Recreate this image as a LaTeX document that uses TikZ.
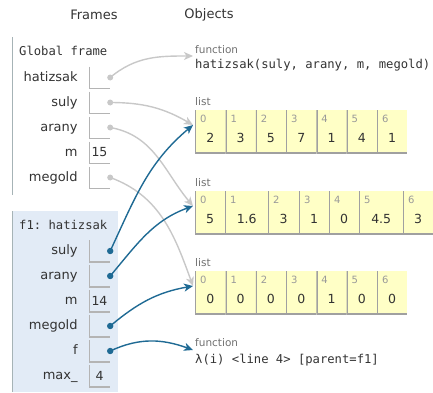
\documentclass[tikz,border=0pt]{standalone}
\usepackage{fontspec}
\setmainfont{DejaVu Sans}
\setmonofont{DejaVu Sans Mono}
\usepackage{xcolor}
\usepackage{tikz}
\usetikzlibrary{arrows.meta,positioning}
\definecolor{framebg}{HTML}{E2EBF6}
\definecolor{frameline}{HTML}{A6B3B6}
\definecolor{listbg}{HTML}{FFFFC6}
\definecolor{cellline}{HTML}{A0A0A0}
\definecolor{boxline}{HTML}{B4B4B4}
\definecolor{lightptr}{HTML}{C8C8C8}
\definecolor{darkptr}{HTML}{1F6A94}
\definecolor{ink}{HTML}{333333}
\definecolor{typegray}{HTML}{707070}
\definecolor{idxgray}{HTML}{999999}
\tikzstyle{header} = [font=\fontsize{13pt}{15pt}\selectfont, text=ink]
\tikzstyle{frametitle} = [anchor=west, inner sep=0pt, font=\ttfamily\fontsize{12.2pt}{14pt}\selectfont, text=ink]
\tikzstyle{varname} = [inner sep=0pt, text height=9.5pt, text depth=2.5pt, font=\fontsize{13pt}{15pt}\selectfont, text=ink]
\tikzstyle{valbox} = [rectangle, minimum width=21pt, minimum height=22pt, inner sep=0pt, font=\fontsize{12.5pt}{14pt}\selectfont, text=ink,
  path picture={\draw[boxline, line width=2pt] (path picture bounding box.north west) -- (path picture bounding box.south west) -- (path picture bounding box.south east);}]
\tikzstyle{typelabel} = [anchor=west, inner sep=0pt, font=\fontsize{10.5pt}{12pt}\selectfont, text=typegray]
\tikzstyle{codetext} = [anchor=west, inner sep=0pt, font=\ttfamily\fontsize{12.2pt}{14pt}\selectfont, text=ink]
\tikzstyle{listcell} = [rectangle, anchor=north west, minimum height=43pt, inner sep=0pt, fill=listbg,
  path picture={\draw[cellline, line width=2.4pt] (path picture bounding box.north west) -- (path picture bounding box.south west) -- (path picture bounding box.south east);}]
\tikzstyle{cellidx} = [anchor=west, inner sep=0pt, font=\fontsize{10pt}{11pt}\selectfont, text=idxgray]
\tikzstyle{cellval} = [inner sep=0pt, font=\fontsize{12.5pt}{14pt}\selectfont, text=ink]
\tikzstyle{ptrlight} = [draw=lightptr, line width=1.4pt, -{Stealth[length=9pt, width=8pt, inset=2.5pt]}]
\tikzstyle{ptrdark} = [draw=darkptr, line width=1.4pt, -{Stealth[length=9pt, width=8pt, inset=2.5pt]}]

\begin{document}
\begin{tikzpicture}[x=1pt, y=-1pt, node distance=25pt]
	\useasboundingbox (0,0) rectangle (433,392);
	\node (frames) [header] at (94,15) {Frames};
	\node (objects) [header] at (209,15) {Objects};

	% global frame
	\draw [frameline] (12,37) -- (12,195);
	\node (gtitle) [frametitle] at (19,51) {Global frame};
	\node (ghat) [valbox] at (99.5,77.5) {};
	\node (gsuly) [valbox, below of=ghat] {};
	\node (garany) [valbox, below of=gsuly] {};
	\node (gm) [valbox, below of=garany] {15};
	\node (gmeg) [valbox, below of=gm] {};
	\node (nghat) [varname, left=11pt of ghat] {hatizsak};
	\node (ngsuly) [varname, left=11pt of gsuly] {suly};
	\node (ngarany) [varname, left=11pt of garany] {arany};
	\node (ngm) [varname, left=11pt of gm] {m};
	\node (ngmeg) [varname, left=11pt of gmeg] {megold};

	% f1 frame
	\fill [framebg] (12,211) rectangle (118,392);
	\draw [frameline] (12,211) -- (12,392);
	\node (ftitle) [frametitle] at (19,225) {f1: hatizsak};
	\node (fsuly) [valbox] at (99.5,251) {};
	\node (farany) [valbox, below of=fsuly] {};
	\node (fm) [valbox, below of=farany] {14};
	\node (fmeg) [valbox, below of=fm] {};
	\node (ff) [valbox, below of=fmeg] {};
	\node (fmax) [valbox, below of=ff] {4};
	\node (nfsuly) [varname, left=11pt of fsuly] {suly};
	\node (nfarany) [varname, left=11pt of farany] {arany};
	\node (nfm) [varname, left=11pt of fm] {m};
	\node (nfmeg) [varname, left=11pt of fmeg] {megold};
	\node (nff) [varname, left=11pt of ff] {f};
	\node (nfmax) [varname, left=11pt of fmax] {max\_};

	% objects
	\node (fun1type) [typelabel] at (195,50) {function};
	\node (fun1) [codetext] at (195,65) {hatizsak(suly, arany, m, megold)};

	\node (latype) [typelabel] at (195,102) {list};
	\foreach \i/\v in {0/2,1/3,2/5,3/7,4/1,5/4,6/1} {
		\node (la\i) [listcell, minimum width=30.3pt] at ({195+30.3*\i},110) {};
		\node (laidx\i) [cellidx] at ([xshift=5pt, yshift=-9pt]la\i.north west) {\i};
		\node (laval\i) [cellval] at ([yshift=-6pt]la\i.center) {\v};
	}

	\node (lbtype) [typelabel] at (195,183) {list};
	\foreach \i/\x/\w/\v in {0/195/30/5,1/225/43/1.6,2/268/31/3,3/299/30/1,4/329/30/0,5/359/44/4.5,6/403/30/3} {
		\node (lb\i) [listcell, minimum width=\w pt] at (\x,191) {};
		\node (lbidx\i) [cellidx] at ([xshift=5pt, yshift=-9pt]lb\i.north west) {\i};
		\node (lbval\i) [cellval] at ([yshift=-6pt]lb\i.center) {\v};
	}

	\node (lctype) [typelabel] at (195,263) {list};
	\foreach \i/\v in {0/0,1/0,2/0,3/0,4/1,5/0,6/0} {
		\node (lc\i) [listcell, minimum width=30.3pt] at ({195+30.3*\i},271) {};
		\node (lcidx\i) [cellidx] at ([xshift=5pt, yshift=-9pt]lc\i.north west) {\i};
		\node (lcval\i) [cellval] at ([yshift=-6pt]lc\i.center) {\v};
	}

	\node (fun2type) [typelabel] at (195,343) {function};
	\node (fun2) [codetext] at (195,360) {λ(i) <line 4> [parent=f1]};

	% pointers
	\draw [ptrlight] (ghat.east) to [out=40, in=180] ([xshift=-2pt, yshift=-6pt]fun1type.west);
	\draw [ptrlight] (gsuly.east) to [out=0, in=150] ([xshift=-2pt, yshift=-15pt]la0.north west);
	\draw [ptrlight] (garany.east) to [out=-10, in=130] ([xshift=-2pt, yshift=-15pt]lb0.north west);
	\draw [ptrlight] (gmeg.east) to [out=-20, in=110] ([xshift=-2pt, yshift=-15pt]lc0.north west);
	\draw [ptrdark] (fsuly.east) to [out=65, in=220] ([xshift=-2pt, yshift=-15pt]la0.north west);
	\draw [ptrdark] (farany.east) to [out=50, in=200] ([xshift=-2pt, yshift=-15pt]lb0.north west);
	\draw [ptrdark] (fmeg.east) to [out=40, in=190] ([xshift=-2pt, yshift=-15pt]lc0.north west);
	\draw [ptrdark] (ff.east) to [out=25, in=160] ([xshift=-2pt, yshift=-7pt]fun2type.west);

	\fill [lightptr] (ghat.east) circle (3pt);
	\fill [lightptr] (gsuly.east) circle (3pt);
	\fill [lightptr] (garany.east) circle (3pt);
	\fill [lightptr] (gmeg.east) circle (3pt);
	\fill [darkptr] (fsuly.east) circle (3.2pt);
	\fill [darkptr] (farany.east) circle (3.2pt);
	\fill [darkptr] (fmeg.east) circle (3.2pt);
	\fill [darkptr] (ff.east) circle (3.2pt);
\end{tikzpicture}
\end{document}
